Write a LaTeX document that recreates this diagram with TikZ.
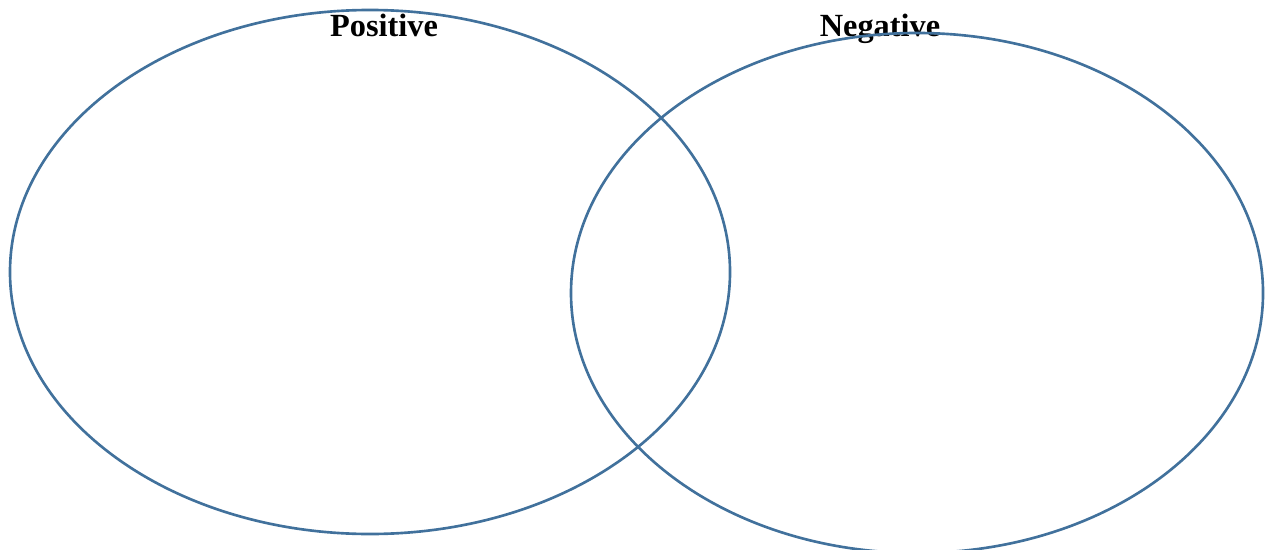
\documentclass[tikz,border=0pt]{standalone}
\usepackage{fontspec}
\setmainfont{Liberation Serif}
\usetikzlibrary{shapes.geometric}
\definecolor{ring}{HTML}{41719C}
\tikzset{
  setring/.style={ellipse,draw=ring,line width=0.75pt,inner sep=0pt},
  setlabel/.style={font=\fontsize{9.2}{11}\selectfont\bfseries,anchor=base,inner sep=0pt}
}
\begin{document}
\begin{tikzpicture}[x=1mm,y=-1mm]
  \useasboundingbox (0,0) rectangle (126.9,54.9);
  % labels first, the rings are drawn over them
  \node[setlabel] (poslabel) at (38.4,3.7) {Positive};
  \node[setlabel] (neglabel) at (88.0,3.7) {Negative};
  \node[setring,minimum width=72mm,minimum height=52.4mm] (pos) at (37.0,27.2) {};
  \node[setring,minimum width=69.2mm,minimum height=52mm] (neg) at (91.7,29.3) {};
\end{tikzpicture}
\end{document}
